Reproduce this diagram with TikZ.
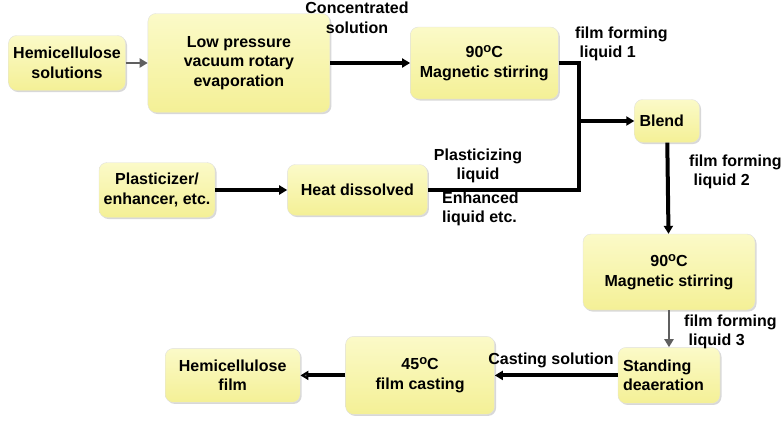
\documentclass[tikz,border=0pt]{standalone}
\usepackage{fontspec}
\setmainfont{Liberation Sans}
\usepackage{tikz}
\usetikzlibrary{arrows.meta, positioning, calc, shadows}

\definecolor{boxtop}{RGB}{251,250,200}
\definecolor{boxbot}{RGB}{244,240,150}
\definecolor{arrowgray}{RGB}{95,95,95}
\newcommand{\degc}{\raisebox{5pt}{\fontsize{13}{13}\selectfont o}C}

\begin{document}
\begin{tikzpicture}[
    x=1pt, y=1pt,
    font=\fontsize{16}{19.5}\selectfont\bfseries,
    box/.style={rectangle, rounded corners=8pt, draw=black!12, top color=boxtop, bottom color=boxbot, align=center,
                drop shadow={shadow xshift=1.5pt, shadow yshift=-1.5pt, fill=black!30}},
    bline/.style={line width=4pt, -{Triangle[length=8pt, width=9pt]}},
    gline/.style={line width=2.5pt, arrowgray, -{Triangle[length=8pt, width=9pt]}},
    lbl/.style={inner sep=0pt, align=center}
]
    \useasboundingbox (0,0) rectangle (783,-424);

    \node[box, minimum width=117pt, minimum height=55pt] (hemi) at (67,-63) {Hemicellulose\\solutions};

    \node[box, minimum width=182pt, minimum height=99pt, right=22pt of hemi] (evap) {
        Low pressure\\
        vacuum rotary\\
        evaporation
    };

    \node[box, minimum width=148pt, minimum height=72pt, right=80pt of evap] (stir1) {
        90\degc\\
        Magnetic stirring
    };

    \node[box, text width=55pt, inner xsep=5pt, align=left, minimum height=43pt] (blend) at (667,-121) {Blend};

    \node[box, minimum width=116pt, minimum height=55pt] (plast) at (157,-190) {Plasticizer/\\enhancer, etc.};

    \node[box, minimum width=140pt, minimum height=51pt, right=72pt of plast] (heat) {Heat dissolved};

    \node[box, minimum width=172pt, minimum height=76pt] (stir2) at (669,-272) {
        90\degc\\
        Magnetic stirring
    };

    \node[box, text width=92pt, inner xsep=5pt, align=left, minimum height=56pt, below=37pt of stir2] (stand) {
        Standing\\
        deaeration
    };

    \node[box, minimum width=149pt, minimum height=78pt, left=123pt of stand] (cast) {
        45\degc\\
        film casting
    };

    \node[box, minimum width=135pt, minimum height=54pt, left=45pt of cast] (film) {Hemicellulose\\film};

    % labels
    \node[lbl] (conc) at (357,-18) {Concentrated\\solution};
    \node[lbl, align=left, anchor=west] (ffl1) at (575,-44) {film forming\\\ liquid 1};
    \node[lbl] (plasliq) at (478,-166) {Plasticizing\\liquid};
    \node[lbl, align=left, anchor=west] (enh) at (442,-209) {Enhanced\\liquid etc.};
    \node[lbl, align=left, anchor=west] (ffl2) at (689,-172) {film forming\\\ liquid 2};
    \node[lbl, align=left, anchor=west] (ffl3) at (684,-332) {film forming\\\ liquid 3};
    \node[lbl] (castsol) at (551,-360) {Casting solution};

    % connectors
    \coordinate (jn) at ($(stir1.east)+(20pt,0)$);

    \draw[gline] (hemi) -- (evap);
    \draw[bline] (evap) -- (stir1);
    \draw[line width=4pt] (stir1.east) -- (jn) -- (jn |- heat.east) -- (heat.east);
    \draw[bline] (jn |- blend.west) -- (blend.west);
    \draw[bline] (plast) -- (heat);
    \draw[bline] (blend) -- (stir2);
    \draw[gline] (stir2) -- (stand);
    \draw[bline] (stand) -- (cast);
    \draw[line width=4pt, -{Triangle[length=8pt, width=9pt, fill=arrowgray]}] (cast) -- (film);

\end{tikzpicture}
\end{document}
